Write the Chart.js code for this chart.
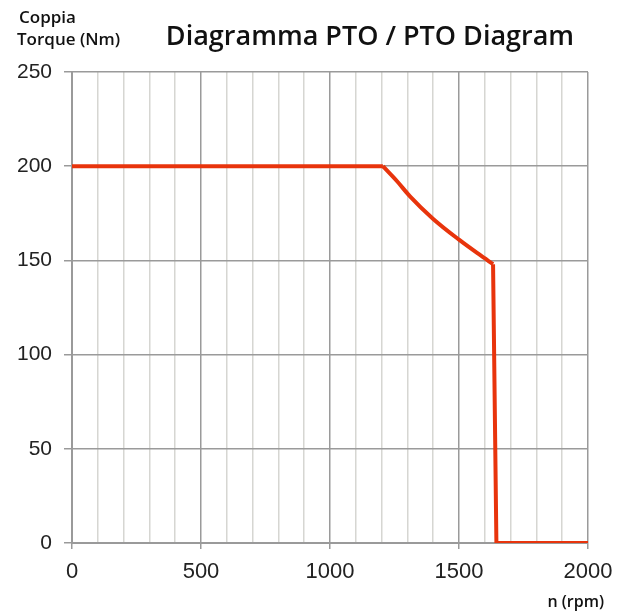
<!DOCTYPE html>
<html>
<head>
<meta charset="utf-8">
<script src="https://cdn.jsdelivr.net/npm/chart.js@4.4.1/dist/chart.umd.min.js"></script>
<style>
  html, body { margin: 0; padding: 0; background: #fff; }
  #wrap { width: 629px; height: 613px; position: relative; }
</style>
</head>
<body>
<div id="wrap"><canvas id="ptoChart" width="629" height="613"></canvas></div>
<script>
// rpm / torque
const flatRpm = [0, 1205];
const flatTorque = [200, 200];
const curveRpm = [1205, 1260, 1310, 1400, 1500, 1580, 1632];
const curveTorque = [200, 192, 184, 172, 161, 153, 148];
const dropRpm = [1632, 1645, 2000];
const dropTorque = [148, 0, 0];
const xTickLabels = [0, 500, 1000, 1500, 2000];
const yTickLabels = [0, 50, 100, 150, 200, 250];

const titleText = 'Diagramma PTO / PTO Diagram';
const yTitleLines = ['Coppia', 'Torque (Nm)'];
const xTitleText = 'n (rpm)';

const fontFam = '"Liberation Sans", Arial, sans-serif';
const titleFam = '"Open Sans", sans-serif';
const lineColor = '#e8340c';

function toPoints(xs, ys) {
    return xs.map((x, i) => ({ x: x, y: ys[i] }));
}

// titles drawn on the canvas after the chart
const textPlugin = {
    id: 'texts',
    afterDraw(c) {
        const ctx = c.ctx;
        ctx.save();
        ctx.fillStyle = '#111';
        ctx.textBaseline = 'alphabetic';
        ctx.font = '600 27px ' + titleFam;
        ctx.textAlign = 'center';
        ctx.fillText(titleText, 370, 45);
        ctx.font = '600 17px ' + titleFam;
        ctx.textAlign = 'left';
        ctx.fillText(yTitleLines[0], 19, 23);
        ctx.fillText(yTitleLines[1], 17, 45);
        ctx.font = '600 16px ' + titleFam;
        ctx.textAlign = 'right';
        ctx.fillText(xTitleText, 604, 607);
        ctx.restore();
    }
};

const baseSet = {
    borderColor: lineColor,
    borderWidth: 4,
    pointRadius: 0,
    tension: 0,
    fill: false
};

const chart = new Chart(document.getElementById('ptoChart'), {
    type: 'line',
    data: {
        datasets: [
            Object.assign({}, baseSet, { data: toPoints(flatRpm, flatTorque) }),
            Object.assign({}, baseSet, {
                data: toPoints(curveRpm, curveTorque),
                cubicInterpolationMode: 'monotone'
            }),
            Object.assign({}, baseSet, { data: toPoints(dropRpm, dropTorque) })
        ]
    },
    options: {
        responsive: false,
        animation: false,
        layout: { padding: { left: 0, top: 72, right: 41, bottom: 0 } },
        plugins: {
            legend: { display: false },
            tooltip: { enabled: false }
        },
        scales: {
            x: {
                type: 'linear',
                min: 0,
                max: 2000,
                afterFit(s) { s.height = 70; },
                ticks: {
                    stepSize: 100,
                    autoSkip: false,
                    maxRotation: 0,
                    padding: 10,
                    color: '#222',
                    font: { family: fontFam, size: 22 },
                    callback: v => xTickLabels.includes(v) ? String(v) : ''
                },
                grid: {
                    color: ctx => (ctx.tick && ctx.tick.value % 500 === 0) ? '#9a9a9a' : '#d6d6d2',
                    tickColor: ctx => (ctx.tick && ctx.tick.value % 500 === 0) ? '#9a9a9a' : 'rgba(0,0,0,0)',
                    tickLength: 6,
                    lineWidth: 1.5
                },
                border: { color: '#9a9a9a', width: 2 }
            },
            y: {
                min: 0,
                max: 250,
                afterFit(s) { s.width = 72; },
                ticks: {
                    stepSize: 50,
                    padding: 12,
                    color: '#222',
                    font: { family: fontFam, size: 21 },
                    callback: v => yTickLabels.includes(v) ? String(v) : ''
                },
                grid: {
                    color: '#9a9a9a',
                    tickLength: 8,
                    lineWidth: 1.5
                },
                border: { color: '#9a9a9a', width: 2 }
            }
        }
    },
    plugins: [textPlugin]
});
</script>
</body>
</html>
